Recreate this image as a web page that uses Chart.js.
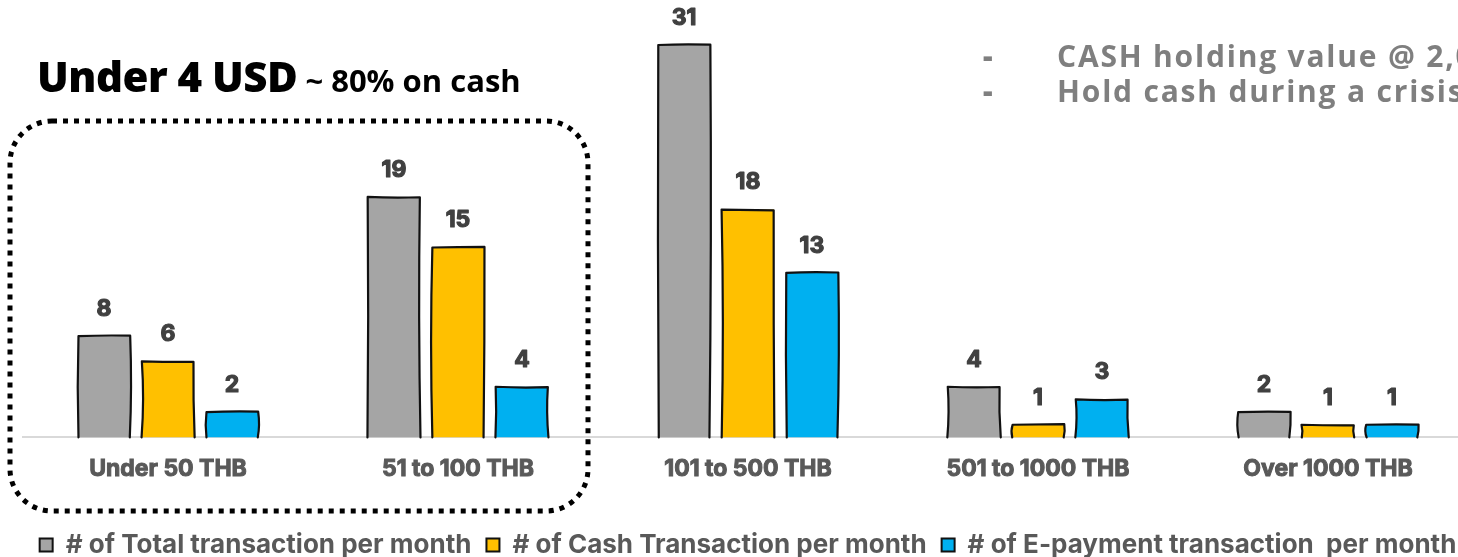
<!DOCTYPE html>
<html>
<head>
<meta charset="utf-8">
<script src="https://cdn.jsdelivr.net/npm/chart.js@4.4.1/dist/chart.umd.min.js"></script>
<style>
  html, body { margin: 0; padding: 0; background: #fff; overflow: hidden; }
  #wrap { position: relative; width: 1458px; height: 557px; overflow: hidden; }
  #chart { position: absolute; left: 0; top: 0; }
  .note { position: absolute; white-space: nowrap; font-family: "Open Sans", sans-serif; font-weight: 700; }
  #title { left: 37px; top: 47px; font-size: 42px; color: #000; font-weight: 800; letter-spacing: -0.5px; }
  #title span { font-size: 31px; font-weight: 700; margin-left: 8px; letter-spacing: 0; }
  .bullet { color: #7f7f7f; font-size: 30px; line-height: 35px; letter-spacing: 1.8px; }
  .bullet b { display: inline-block; width: 74px; }
</style>
</head>
<body>
<div id="wrap">
  <canvas id="chart" width="1480" height="557"></canvas>
  <div class="note" id="title">Under 4 USD<span>~ 80% on cash</span></div>
  <div class="note bullet" style="left:983px; top:38px;"><b>-</b>CASH holding value @ 2,000 THB</div>
  <div class="note bullet" style="left:983px; top:73px;"><b>-</b>Hold cash during a crisis</div>
</div>
<script>
// chart data
const categories = ['Under 50 THB', '51 to 100 THB', '101 to 500 THB', '501 to 1000 THB', 'Over 1000 THB'];
const totalTx = [8, 19, 31, 4, 2];
const cashTx = [6, 15, 18, 1, 1];
const epayTx = [2, 4, 13, 3, 1];
const seriesNames = ['# of Total transaction per month', '# of Cash Transaction per month', '# of E-payment transaction  per month'];
const seriesColors = ['#a5a5a5', '#ffc000', '#00b0f0'];

const heavyFont = 'Inter, "Liberation Sans", sans-serif';

// small fixed wobble so the outlines look hand drawn
const wobble = [1.2, -0.8, 1.6, -1.4, 0.6, -1.1, 1.9, -0.5, 0.9, -1.7];

function sketchOutline(ctx, bar, k) {
  const w = i => wobble[(k * 3 + i) % wobble.length];
  const x0 = bar.x - bar.width / 2, x1 = bar.x + bar.width / 2;
  const top = bar.y, base = bar.base, mid = (top + base) / 2;
  ctx.beginPath();
  ctx.moveTo(x0 + w(0) * 0.4, base);
  ctx.quadraticCurveTo(x0 + w(1) * 1.3, mid, x0 + w(2) * 0.3, top);
  ctx.quadraticCurveTo(bar.x, top + w(3) * 0.7, x1 + w(4) * 0.3, top + w(5) * 0.4);
  ctx.quadraticCurveTo(x1 + w(6) * 1.1, mid, x1 + w(7) * 0.4, base);
  ctx.stroke();
}

// outlines + value labels above each bar
const barDecor = {
  id: 'barDecor',
  afterDatasetsDraw(chart) {
    const ctx = chart.ctx;
    ctx.save();
    ctx.strokeStyle = '#111';
    ctx.lineWidth = 2.2;
    ctx.lineJoin = 'round';
    ctx.lineCap = 'round';
    chart.data.datasets.forEach((ds, i) => {
      chart.getDatasetMeta(i).data.forEach((bar, j) => sketchOutline(ctx, bar, i * 5 + j));
    });
    ctx.font = 'bold 23px ' + heavyFont;
    ctx.fillStyle = '#404040';
    ctx.strokeStyle = '#404040';
    ctx.lineWidth = 1.2;
    ctx.textAlign = 'center';
    ctx.textBaseline = 'middle';
    chart.data.datasets.forEach((ds, i) => {
      chart.getDatasetMeta(i).data.forEach((bar, j) => {
        ctx.strokeText(ds.data[j], bar.x, bar.y - 27);
        ctx.fillText(ds.data[j], bar.x, bar.y - 27);
      });
    });
    ctx.restore();
  }
};

// dotted highlight box around the two cheapest groups
const dottedBox = {
  id: 'dottedBox',
  afterDraw(chart) {
    const ctx = chart.ctx;
    ctx.save();
    ctx.strokeStyle = '#000';
    ctx.lineWidth = 5;
    ctx.setLineDash([5, 6]);
    ctx.beginPath();
    ctx.roundRect(10, 121, 578, 390, 42);
    ctx.stroke();
    ctx.restore();
  }
};

const ds = (label, data, color) => ({
  label, data,
  backgroundColor: color,
  borderWidth: 0
});

new Chart(document.getElementById('chart'), {
  type: 'bar',
  data: {
    labels: categories,
    datasets: [
      ds(seriesNames[0], totalTx, seriesColors[0]),
      ds(seriesNames[1], cashTx, seriesColors[1]),
      ds(seriesNames[2], epayTx, seriesColors[2])
    ]
  },
  options: {
    responsive: false,
    animation: false,
    categoryPercentage: 0.662,
    barPercentage: 0.8125,
    layout: { padding: { top: 7, left: 23, right: 7, bottom: -11 } },
    plugins: {
      tooltip: { enabled: false },
      legend: {
        position: 'bottom',
        labels: {
          boxWidth: 13,
          boxHeight: 13,
          padding: 15,
          color: '#595959',
          font: { family: heavyFont, size: 26, weight: 'bold' },
          generateLabels(chart) {
            const items = Chart.defaults.plugins.legend.labels.generateLabels(chart);
            items.forEach(it => { it.lineWidth = 2; it.strokeStyle = '#111'; });
            return items;
          }
        }
      }
    },
    scales: {
      x: {
        grid: { display: false, drawTicks: false },
        border: { color: '#d9d9d9', width: 2 },
        afterFit(scale) { scale.height += 16; },
        ticks: {
          padding: 18,
          color: '#595959',
          textStrokeColor: '#595959',
          textStrokeWidth: 1,
          font: { family: heavyFont, size: 23, weight: 'bold' }
        }
      },
      y: { display: false, min: 0, max: 34 }
    }
  },
  plugins: [barDecor, dottedBox]
});
</script>
</body>
</html>
